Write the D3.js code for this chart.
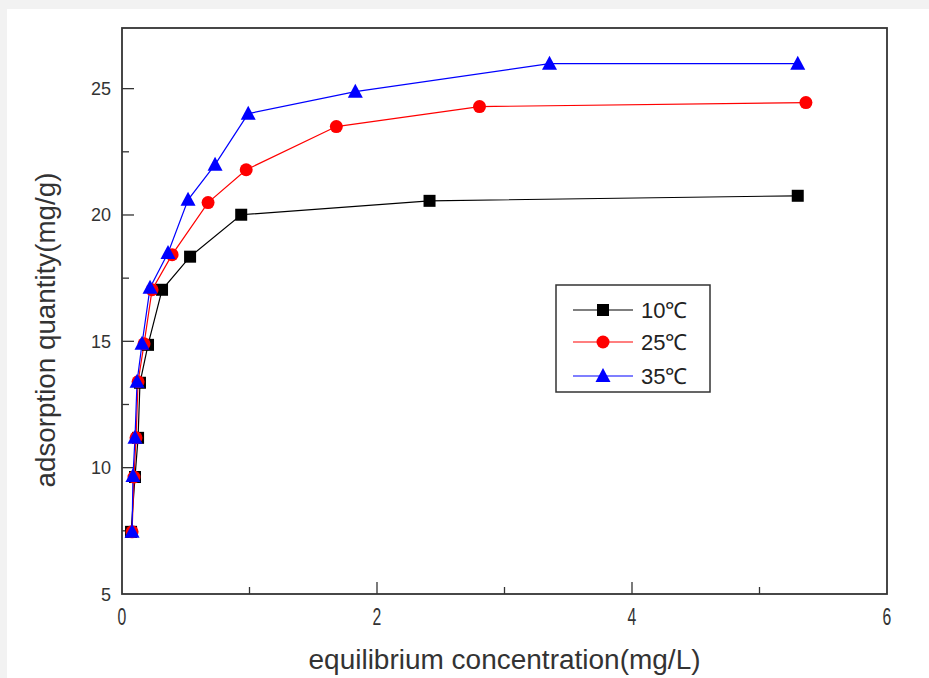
<!DOCTYPE html>
<html><head><meta charset="utf-8">
<script src="https://cdn.jsdelivr.net/npm/d3@7"></script>
<style>
html,body{margin:0;padding:0;background:#f2f2f2;}
svg{display:block;}
</style></head>
<body>
<svg id="chart" width="929" height="678"></svg>
<script>
// Data
const x10 = [0.071, 0.102, 0.126, 0.141, 0.204, 0.314, 0.534, 0.935, 2.412, 5.30];
const y10 = [7.46, 9.63, 11.18, 13.36, 14.86, 17.04, 18.35, 20.01, 20.56, 20.76];
const x25 = [0.079, 0.094, 0.110, 0.126, 0.173, 0.236, 0.393, 0.675, 0.974, 1.681, 2.804, 5.364];
const y25 = [7.46, 9.63, 11.18, 13.40, 14.90, 17.04, 18.43, 20.49, 21.79, 23.50, 24.29, 24.45];
const x35 = [0.079, 0.086, 0.102, 0.118, 0.157, 0.220, 0.361, 0.518, 0.730, 0.990, 1.830, 3.353, 5.30];
const y35 = [7.46, 9.67, 11.18, 13.40, 14.90, 17.12, 18.50, 20.60, 21.99, 24.01, 24.88, 25.99, 25.99];
const seriesNames = ["10℃", "25℃", "35℃"];
const xTicks = [0, 2, 4, 6];
const yTicks = [5, 10, 15, 20, 25];
const xTitle = "equilibrium concentration(mg/L)";
const yTitle = "adsorption quantity(mg/g)";

const series = [
  {name: seriesNames[0], xs: x10, ys: y10, color: "#000000", shape: "square"},
  {name: seriesNames[1], xs: x25, ys: y25, color: "#ff0000", shape: "circle"},
  {name: seriesNames[2], xs: x35, ys: y35, color: "#0000ff", shape: "triangle"}
];

const svg = d3.select("#chart");
svg.append("rect").attr("x", 7).attr("y", 9).attr("width", 922).attr("height", 669).attr("fill", "#ffffff");

const L = 122, R = 887, T = 28, B = 594;
const x = d3.scaleLinear().domain([0, 6]).range([L, R]);
const y = d3.scaleLinear().domain([5, 27.4]).range([B, T]);

const axisColor = "#333333";
const font = "'Liberation Sans', Arial, sans-serif";
const g = svg.append("g");

// ticks
const xMinor = [1, 3, 5];
const yMinor = [7.5, 12.5, 17.5, 22.5];
g.selectAll(".xmaj").data(xTicks.slice(1, -1)).join("line")
  .attr("x1", d => x(d)).attr("x2", d => x(d)).attr("y1", B).attr("y2", B - 12)
  .attr("stroke", axisColor).attr("stroke-width", 1.3);
g.selectAll(".xmin").data(xMinor).join("line")
  .attr("x1", d => x(d)).attr("x2", d => x(d)).attr("y1", B).attr("y2", B - 7)
  .attr("stroke", axisColor).attr("stroke-width", 1.3);
g.selectAll(".ymaj").data(yTicks.slice(1)).join("line")
  .attr("y1", d => y(d)).attr("y2", d => y(d)).attr("x1", L).attr("x2", L + 12)
  .attr("stroke", axisColor).attr("stroke-width", 1.3);
g.selectAll(".ymin").data(yMinor).join("line")
  .attr("y1", d => y(d)).attr("y2", d => y(d)).attr("x1", L).attr("x2", L + 7)
  .attr("stroke", axisColor).attr("stroke-width", 1.3);

// frame
g.append("rect").attr("x", L).attr("y", T).attr("width", R - L).attr("height", B - T)
  .attr("fill", "none").attr("stroke", axisColor).attr("stroke-width", 1.8);

// tick labels
g.selectAll(".xl").data(xTicks).join("text")
  .attr("transform", d => `translate(${x(d)},${B + 31}) scale(0.75,1.15)`)
  .attr("text-anchor", "middle")
  .attr("font-family", font)
  .attr("font-size", 21).attr("fill", "#333").text(d => d);
g.selectAll(".yl").data(yTicks).join("text")
  .attr("x", L - 11).attr("y", d => y(d) + 6.5).attr("text-anchor", "end")
  .attr("font-family", font)
  .attr("font-size", 18).attr("fill", "#333").text(d => d);

// titles
svg.append("text").attr("transform", `translate(${(L + R) / 2},669) scale(1,1.12)`).attr("text-anchor", "middle")
  .attr("font-family", font)
  .attr("font-size", 25).attr("fill", "#333")
  .attr("textLength", 392).attr("lengthAdjust", "spacingAndGlyphs")
  .text(xTitle);
svg.append("text").attr("transform", `translate(55,330) rotate(-90)`).attr("text-anchor", "middle")
  .attr("font-family", font)
  .attr("font-size", 27).attr("fill", "#333")
  .attr("textLength", 315).attr("lengthAdjust", "spacingAndGlyphs")
  .text(yTitle);

function marker(sel, shape, color) {
  if (shape === "square") {
    sel.append("rect").attr("x", -6).attr("y", -6).attr("width", 12).attr("height", 12).attr("fill", color);
  } else if (shape === "circle") {
    sel.append("circle").attr("r", 6.5).attr("fill", color);
  } else {
    sel.append("path").attr("d", "M0,-8L7.5,6L-7.5,6Z").attr("fill", color);
  }
}

const line = d3.line().x(d => x(d[0])).y(d => y(d[1]));
series.forEach(s => {
  const pts = s.xs.map((v, i) => [v, s.ys[i]]);
  g.append("path").datum(pts).attr("d", line).attr("fill", "none")
    .attr("stroke", s.color).attr("stroke-width", 1.2);
});
series.forEach(s => {
  const pts = s.xs.map((v, i) => [v, s.ys[i]]);
  g.selectAll(null).data(pts).join("g")
    .attr("transform", d => `translate(${x(d[0])},${y(d[1])})`)
    .each(function() { marker(d3.select(this), s.shape, s.color); });
});

// legend
const lg = svg.append("g");
lg.append("rect").attr("x", 556).attr("y", 285).attr("width", 154).attr("height", 107)
  .attr("fill", "#fff").attr("stroke", axisColor).attr("stroke-width", 1.5);
const rowY = [310, 342, 376];
series.forEach((s, i) => {
  lg.append("line").attr("x1", 573).attr("x2", 633).attr("y1", rowY[i]).attr("y2", rowY[i])
    .attr("stroke", s.color).attr("stroke-width", 1.2);
  const m = lg.append("g").attr("transform", `translate(603,${rowY[i]})`);
  marker(m, s.shape, s.color);
  lg.append("text").attr("x", 641).attr("y", rowY[i] + 8)
    .attr("font-family", font)
    .attr("font-size", 22).attr("fill", "#222").text(s.name);
});
</script>
</body></html>
